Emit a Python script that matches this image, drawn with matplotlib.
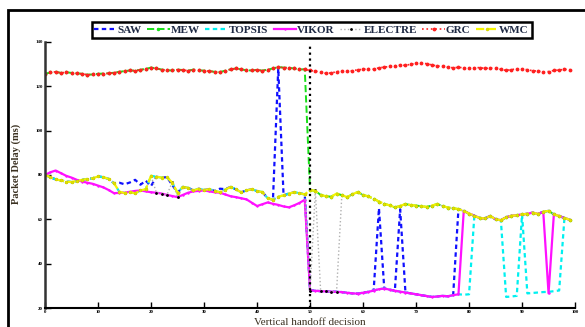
import numpy as np
import matplotlib
matplotlib.use("Agg")
import matplotlib.pyplot as plt
from matplotlib.patches import Rectangle

# decision index ----------------------------------------------------------------
decisions = list(range(100))
handoff_at = 50

# weighted multiplicative (WMC), the yellow trace
wmc = [80.0, 79.0, 78.0, 77.5, 77.0, 76.8, 77.3, 77.8, 78.2, 78.5,
       79.3, 79.0, 78.2, 76.3, 72.5, 71.8, 72.3, 71.7, 73.0, 73.6,
       79.6, 79.2, 78.8, 79.0, 76.5, 72.0, 74.6, 74.2, 73.0, 73.8,
       73.2, 73.6, 72.8, 72.2, 73.4, 74.6, 73.5, 72.2, 73.0, 73.6,
       72.7, 72.3, 69.5, 68.8, 70.2, 70.8, 71.6, 72.2, 71.8, 71.2,
       73.2, 72.8, 71.0, 70.4, 70.2, 71.6, 70.9, 70.0, 71.3, 72.3,
       71.0, 70.3, 69.3, 68.0, 67.0, 66.3, 65.4, 66.0, 66.9, 66.4,
       66.2, 65.9, 65.6, 66.2, 66.9, 66.0, 65.3, 65.0, 64.6, 63.8,
       62.6, 61.6, 60.6, 60.4, 61.5, 60.0, 59.6, 60.9, 61.6, 61.8,
       62.2, 62.5, 63.0, 62.4, 63.4, 63.8, 62.2, 61.5, 60.6, 59.8]

# grey relational (GRC), the red trace on top
grc = [125.6, 126.2, 126.5, 126.0, 126.3, 126.0, 125.8, 125.6, 125.2, 125.3,
       125.6, 125.7, 125.8, 126.1, 126.5, 126.8, 127.1, 127.0, 127.4, 127.8,
       128.4, 128.0, 127.5, 127.2, 127.1, 127.5, 127.3, 127.0, 127.5, 127.2,
       127.0, 126.8, 126.5, 126.4, 127.0, 127.6, 128.0, 127.6, 127.2, 127.1,
       127.4, 127.0, 127.5, 128.0, 128.6, 128.4, 128.3, 128.0, 127.6, 127.6,
       127.1, 126.8, 126.3, 125.8, 126.0, 126.5, 126.9, 126.7, 127.0, 127.4,
       127.6, 127.9, 127.7, 128.3, 128.6, 128.9, 129.2, 129.5, 129.4, 129.9,
       130.3, 130.6, 130.1, 129.6, 129.1, 129.0, 128.6, 128.3, 128.5, 128.3,
       128.1, 128.3, 128.4, 128.0, 128.2, 128.0, 127.6, 127.1, 127.5, 127.8,
       127.8, 127.4, 127.0, 126.8, 126.4, 126.6, 127.1, 127.3, 127.6, 127.5]

# VIKOR before the handoff (x = 0..49)
vikor_before = [80.0, 81.2, 82.0, 80.8, 79.6, 78.8, 77.8, 77.0, 76.5, 76.0,
                75.2, 74.4, 73.2, 71.8, 71.9, 72.0, 72.4, 72.8, 73.0, 72.6,
                72.2, 72.0, 71.6, 71.0, 70.5, 70.0, 71.0, 72.0, 72.6, 72.8,
                73.0, 72.6, 72.2, 72.0, 71.2, 70.4, 70.0, 69.5, 69.0, 67.5,
                66.0, 66.8, 67.6, 67.0, 66.5, 65.8, 65.4, 66.3, 67.4, 68.8]

# low band after the handoff (x = 50..78)
low_band = [28.0, 27.8, 27.6, 27.5, 27.4, 27.3, 27.2, 26.9, 26.6, 26.5,
            26.9, 27.3, 27.9, 28.5, 28.8, 28.3, 27.8, 27.4, 27.0, 26.6,
            26.2, 25.8, 25.4, 25.0, 25.2, 25.5, 25.3, 25.8, 26.2]

saw = (wmc[:14] + [76.5, 75.8, 76.6, 77.8, 75.6, 77.4, 75.0] + wmc[21:24]
       + [75.5] + wmc[25:33] + [73.8, 73.6] + wmc[35:44] + [128.0]
       + wmc[45:50] + low_band[:13] + [65.0] + low_band[14:17] + [64.5]
       + low_band[18:28] + wmc[78:])
mew = grc[:50] + wmc[50:]
topsis = (wmc[:50] + low_band + [26.0, 26.2] + wmc[81:87]
          + [25.0, 25.2, 25.5] + wmc[90:91]
          + [26.6, 26.8, 27.0, 27.2, 27.3, 27.6, 27.9] + wmc[98:])
vikor = vikor_before + low_band + wmc[79:95] + [26.6] + wmc[96:]
electre = (wmc[:21] + [72.0, 71.6, 71.0, 76.8, 70.0] + wmc[26:50]
           + [27.6, 73.0, 27.6, 27.5, 27.4, 27.3, 71.0] + wmc[57:])

fig = plt.figure(figsize=[5.85, 3.27], dpi=100)
ax = fig.add_axes([0.077, 0.058, 0.906, 0.814])

serif = 'Liberation Serif'

ax.plot(decisions, saw, '--', color='#1010ff', lw=1.6, dashes=(2, 1.5), label='SAW')
ax.plot(decisions, mew, '--', color='#18e018', lw=1.4, marker='.', ms=3, label='MEW')
ax.plot(decisions, topsis, '--', color='#00f0f0', lw=1.6, dashes=(2, 1.5), label='TOPSIS')
ax.plot(decisions, vikor, '-', color='#ff10ff', lw=1.6, marker='+', ms=2, label='VIKOR')
ax.plot(decisions, electre, ':', color='#b0b0b0', lw=1.0, marker='.', ms=2,
        mfc='k', mec='k', label='ELECTRE')
ax.plot(decisions, grc, ':', color='#ff2020', lw=1.2, marker='.', ms=3.5, label='GRC')
ax.plot(decisions, wmc, '--', color='#f5f500', lw=1.6, marker='.', ms=3,
        mec='#d8d800', label='WMC')

# handoff point
ax.axvline(handoff_at, ymax=0.985, color='k', ls=':', lw=1.6)

ax.set_xlim(0, 100)
ax.set_ylim(20, 140)
ax.set_xticks(np.arange(0, 101, 10))
ax.set_yticks(np.arange(20, 141, 20))
ax.tick_params(direction='in', length=4, width=1, labelsize=3.5, pad=1.5)
for lbl in ax.get_xticklabels() + ax.get_yticklabels():
    lbl.set_family(serif)
    lbl.set_fontweight('bold')
ax.spines['top'].set_visible(False)
ax.spines['right'].set_visible(False)
ax.spines['left'].set_linewidth(1.8)
ax.spines['left'].set_color('#333333')
ax.spines['bottom'].set_linewidth(1.5)

ax.set_ylabel('Packet Delay (ms)', family=serif, fontweight='bold', fontsize=7.5,
              color='#3a3020')
ax.yaxis.set_label_coords(-0.045, 0.54)
ax.set_xlabel('Vertical handoff decision', family=serif, fontsize=8,
              color='#3a3020')
ax.xaxis.set_label_coords(0.5, -0.038)

leg = ax.legend(loc='center', bbox_to_anchor=(0.503, 1.045), ncol=7,
                prop={'family': serif, 'weight': 'bold', 'size': 8},
                handlelength=2.0, handletextpad=0.1, columnspacing=0.5,
                borderpad=0.25, fancybox=False, framealpha=1)
leg.get_frame().set_edgecolor('k')
leg.get_frame().set_linewidth(1.8)
for t in leg.get_texts():
    t.set_color('#1f2a44')

# outer frame of the figure
fig.patches.append(Rectangle((8 / 585, -0.1), 1.0, 1.1 - 10.5 / 327,
                             transform=fig.transFigure, fill=False,
                             edgecolor='k', lw=2))

fig.savefig('out.png', dpi=100)
